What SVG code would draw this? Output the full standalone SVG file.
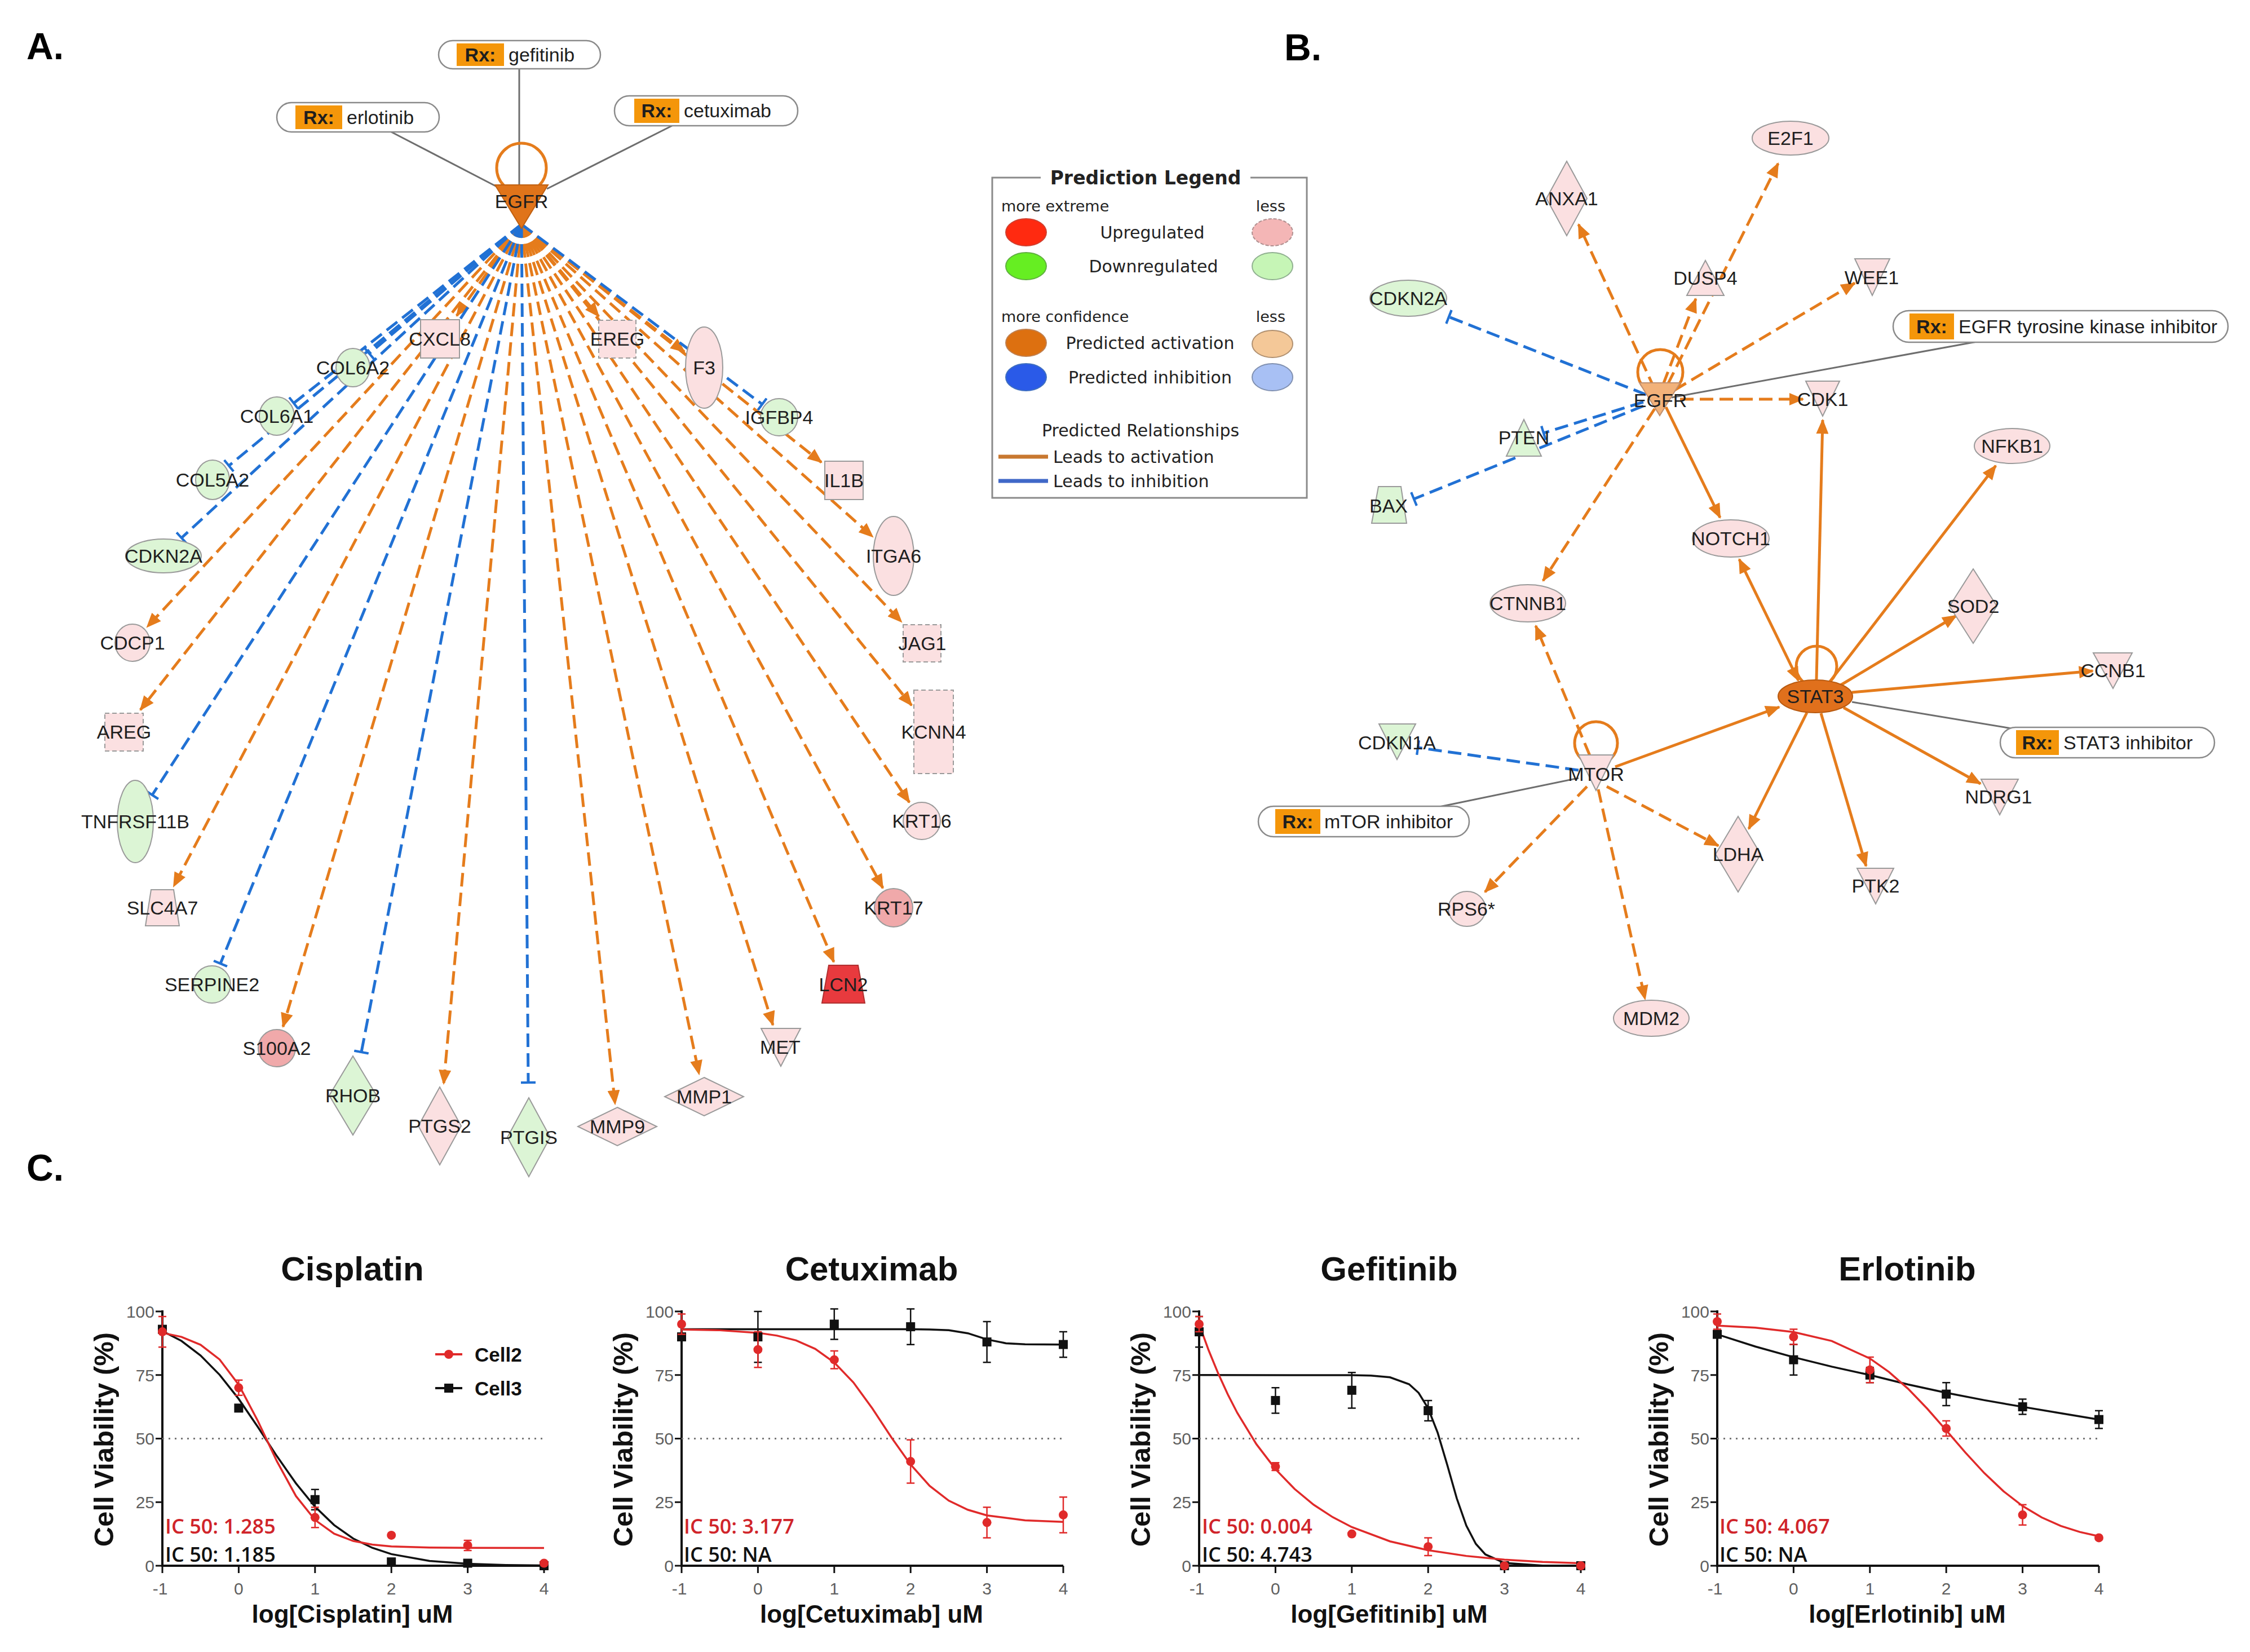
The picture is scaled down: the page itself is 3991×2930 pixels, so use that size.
<svg xmlns="http://www.w3.org/2000/svg" xmlns:xlink="http://www.w3.org/1999/xlink" width="3991" height="2930" viewBox="0 0 3991 2930">
<style>
.la{font-family:"Liberation Sans",Arial,sans-serif;font-size:34px;fill:#1e1e1e;text-anchor:middle}
.pk{fill:#fbe0e1;stroke:#9a9a9a;stroke-width:2}
.pd{fill:#f0a9aa;stroke:#9a9a9a;stroke-width:2}
.rd{fill:#e83a3e;stroke:#b03030;stroke-width:2}
.gn{fill:#dcf5d5;stroke:#9a9a9a;stroke-width:2}
.dsh{stroke-dasharray:8 5}
.eo{fill:none;stroke:#e57c1c;stroke-width:5;stroke-dasharray:24 11;marker-end:url(#aO)}
.so{fill:none;stroke:#e57c1c;stroke-width:5;marker-end:url(#aO)}
.sb{fill:none;stroke:#e57c1c;stroke-width:5;marker-end:url(#aO);marker-start:url(#aO)}
.eb{fill:none;stroke:#2171d4;stroke-width:5;stroke-dasharray:24 11;marker-end:url(#bB)}
.gl{stroke:#6e6e6e;stroke-width:3}
.lp{fill:none;stroke:#e57c1c;stroke-width:5}
.rxb{fill:#fff;stroke:#8a8a8a;stroke-width:2.5}
.rxo{fill:#f4960a}
.rxt{font-family:"Liberation Sans",Arial,sans-serif;font-size:34px;fill:#1e1e1e}
.rxk{font-weight:bold;text-anchor:middle}
.pl{font-family:"Liberation Sans",Arial,sans-serif;font-size:66px;font-weight:bold;fill:#000}
.lg{font-family:"DejaVu Sans",Verdana,sans-serif;fill:#222}
.ct{font-family:"Liberation Sans",Arial,sans-serif;font-weight:bold;fill:#111;text-anchor:middle}
.tk{font-family:"Liberation Sans",Arial,sans-serif;font-size:30px;fill:#606060}
.ic{font-family:"Open Sans","Liberation Sans",sans-serif;font-size:36px;font-weight:600}
.cr{fill:none;stroke:#e02a2a;stroke-width:3.5;vector-effect:non-scaling-stroke}
.cb{fill:none;stroke:#111;stroke-width:3.5;vector-effect:non-scaling-stroke}
.erR{fill:none;stroke:#e02a2a;stroke-width:2.5}
.erB{fill:none;stroke:#111;stroke-width:2.5}
</style>
<defs>
<marker id="aO" viewBox="0 0 12 10" refX="11" refY="5" markerWidth="27" markerHeight="22" markerUnits="userSpaceOnUse" orient="auto-start-reverse"><path d="M0,0 L12,5 L0,10 Z" fill="#e57c1c"/></marker>
<marker id="bB" viewBox="0 0 4 24" refX="2" refY="12" markerWidth="5" markerHeight="26" markerUnits="userSpaceOnUse" orient="auto"><rect width="4" height="24" fill="#2171d4"/></marker>
<circle id="dR" r="8" fill="#e02a2a"/>
<rect id="sB" x="-8" y="-8" width="16" height="16" fill="#111"/>
<g id="axes">
<path d="M0,2324 V2777 H677" fill="none" stroke="#111" stroke-width="4"/>
<path d="M-12,2326H0M-12,2438.75H0M-12,2551.5H0M-12,2664.25H0M-12,2777H0M0,2777V2790M135.4,2777V2790M270.8,2777V2790M406.2,2777V2790M541.6,2777V2790M677,2777V2790" fill="none" stroke="#111" stroke-width="3"/>
<path d="M0,2551.5H677" fill="none" stroke="#777" stroke-width="3" stroke-dasharray="3 8"/>
<g class="tk" text-anchor="end">
<text x="-14" y="2337">100</text><text x="-14" y="2450">75</text><text x="-14" y="2562">50</text><text x="-14" y="2675">25</text><text x="-14" y="2788">0</text>
</g>
<g class="tk" text-anchor="middle">
<text x="-4" y="2828">-1</text><text x="135.4" y="2828">0</text><text x="270.8" y="2828">1</text><text x="406.2" y="2828">2</text><text x="541.6" y="2828">3</text><text x="677" y="2828">4</text>
</g>
</g>
</defs>
<rect width="3991" height="2930" fill="#fff"/>

<text class="pl" x="47" y="105">A.</text>
<text class="pl" x="2278" y="107">B.</text>
<text class="pl" x="47" y="2094">C.</text>

<g id="connectors">
<line class="gl" x1="921" y1="122" x2="921" y2="335"/>
<line class="gl" x1="694" y1="234" x2="883" y2="332"/>
<line class="gl" x1="1192" y1="223" x2="970" y2="335"/>
<g id="fanA">
<line class="eo" x1="925" y1="398" x2="810" y2="560"/>
<line class="eo" x1="925" y1="398" x2="1062" y2="561"/>
<line class="eo" x1="925" y1="398" x2="1214" y2="624"/>
<line class="eo" x1="925" y1="398" x2="1457" y2="820"/>
<line class="eo" x1="925" y1="398" x2="1548" y2="952"/>
<line class="eo" x1="925" y1="398" x2="1599" y2="1103"/>
<line class="eo" x1="925" y1="398" x2="1617" y2="1251"/>
<line class="eo" x1="925" y1="398" x2="1613" y2="1423"/>
<line class="eo" x1="925" y1="398" x2="1566" y2="1575"/>
<line class="eo" x1="925" y1="398" x2="1479" y2="1706"/>
<line class="eo" x1="925" y1="398" x2="1371" y2="1818"/>
<line class="eo" x1="925" y1="398" x2="1240" y2="1905"/>
<line class="eo" x1="925" y1="398" x2="1091" y2="1958"/>
<line class="eo" x1="925" y1="398" x2="787" y2="1922"/>
<line class="eo" x1="925" y1="398" x2="502" y2="1821"/>
<line class="eo" x1="925" y1="398" x2="308" y2="1572"/>
<line class="eo" x1="925" y1="398" x2="249" y2="1259"/>
<line class="eo" x1="925" y1="398" x2="261" y2="1112"/>
<line class="eb" x1="925" y1="398" x2="655" y2="627"/>
<line class="eb" x1="925" y1="398" x2="521" y2="715"/>
<line class="eb" x1="925" y1="398" x2="406" y2="826"/>
<line class="eb" x1="925" y1="398" x2="322" y2="954"/>
<line class="eb" x1="925" y1="398" x2="270" y2="1410"/>
<line class="eb" x1="925" y1="398" x2="391" y2="1709"/>
<line class="eb" x1="925" y1="398" x2="641" y2="1866"/>
<line class="eb" x1="925" y1="398" x2="937" y2="1920"/>
<line class="eb" x1="925" y1="398" x2="1352" y2="717"/>
</g>
<g id="edgesB">
<line class="eo" x1="2935" y1="690" x2="2800" y2="398"/>
<line class="eo" x1="2958" y1="682" x2="3154" y2="290"/>
<line class="eo" x1="2950" y1="682" x2="3008" y2="530"/>
<line class="eo" x1="2970" y1="692" x2="3290" y2="502"/>
<line class="eo" x1="2980" y1="708" x2="3198" y2="708"/>
<line class="so" x1="2955" y1="722" x2="3051" y2="918"/>
<line class="eo" x1="2935" y1="725" x2="2737" y2="1030"/>
<line class="eb" x1="2920" y1="700" x2="2570" y2="562"/>
<line class="eb" x1="2915" y1="713" x2="2738" y2="768"/>
<line class="eb" x1="2915" y1="720" x2="2508" y2="885"/>
<line class="gl" x1="3512" y1="605" x2="2965" y2="705"/>
<line class="sb" x1="3085" y1="992" x2="3190" y2="1207"/>
<line class="so" x1="3222" y1="1205" x2="3233" y2="745"/>
<line class="so" x1="3245" y1="1210" x2="3540" y2="826"/>
<line class="so" x1="3265" y1="1215" x2="3470" y2="1092"/>
<line class="so" x1="3285" y1="1228" x2="3712" y2="1190"/>
<line class="gl" x1="3568" y1="1292" x2="3285" y2="1245"/>
<line class="so" x1="3270" y1="1255" x2="3513" y2="1390"/>
<line class="so" x1="3230" y1="1265" x2="3310" y2="1536"/>
<line class="so" x1="3205" y1="1264" x2="3102" y2="1470"/>
<line class="so" x1="2865" y1="1360" x2="3156" y2="1254"/>
<line class="eo" x1="2820" y1="1340" x2="2724" y2="1110"/>
<line class="eb" x1="2800" y1="1366" x2="2515" y2="1326"/>
<line class="gl" x1="2548" y1="1432" x2="2800" y2="1380"/>
<line class="eo" x1="2815" y1="1395" x2="2634" y2="1582"/>
<line class="eo" x1="2835" y1="1400" x2="2918" y2="1772"/>
<line class="eo" x1="2850" y1="1395" x2="3048" y2="1500"/>
</g>
</g>

<g id="a-EGFR"><circle class="lp" cx="925" cy="298" r="44"/><polygon points="878,328 972,328 925,405" fill="#e0741a" stroke="#c06010" stroke-width="2"/><text class="la" x="925" y="369">EGFR</text></g>
<g id="a-rx-gefitinib"><rect class="rxb" x="778" y="72" width="287" height="50" rx="25"/><rect class="rxo" x="810" y="77" width="84" height="40"/><text class="rxt rxk" x="852" y="109">Rx:</text><text class="rxt" x="902" y="109">gefitinib</text></g>
<g id="a-rx-erlotinib"><rect class="rxb" x="491" y="182" width="288" height="52" rx="26"/><rect class="rxo" x="524" y="187" width="83" height="42"/><text class="rxt rxk" x="565.5" y="220">Rx:</text><text class="rxt" x="615" y="220">erlotinib</text></g>
<g id="a-rx-cetuximab"><rect class="rxb" x="1090" y="170" width="325" height="53" rx="26"/><rect class="rxo" x="1125" y="175" width="80" height="43"/><text class="rxt rxk" x="1165" y="208">Rx:</text><text class="rxt" x="1213" y="208">cetuximab</text></g>

<g id="a-CXCL8"><rect class="pk" x="746" y="567" width="69" height="68"/><text class="la" x="780" y="613">CXCL8</text></g>
<g id="a-EREG"><rect class="pk dsh" x="1062" y="568" width="66" height="67"/><text class="la" x="1095" y="613">EREG</text></g>
<g id="a-COL6A2"><ellipse class="gn" cx="626" cy="652" rx="30" ry="34"/><text class="la" x="626" y="664">COL6A2</text></g>
<g id="a-COL6A1"><ellipse class="gn" cx="491" cy="738" rx="31" ry="34"/><text class="la" x="491" y="750">COL6A1</text></g>
<g id="a-COL5A2"><ellipse class="gn" cx="377" cy="851" rx="30" ry="35"/><text class="la" x="377" y="863">COL5A2</text></g>
<g id="a-CDKN2A"><ellipse class="gn" cx="290" cy="986" rx="67" ry="30"/><text class="la" x="290" y="998">CDKN2A</text></g>
<g id="a-CDCP1"><ellipse class="pk" cx="235" cy="1140" rx="31" ry="33"/><text class="la" x="235" y="1152">CDCP1</text></g>
<g id="a-AREG"><rect class="pk dsh" x="186" y="1265" width="68" height="67"/><text class="la" x="220" y="1310">AREG</text></g>
<g id="a-TNFRSF11B"><ellipse class="gn" cx="240" cy="1457" rx="32" ry="73"/><text class="la" x="240" y="1469">TNFRSF11B</text></g>
<g id="a-SLC4A7"><polygon class="pk" points="268,1578 308,1578 318,1642 258,1642"/><text class="la" x="288" y="1622">SLC4A7</text></g>
<g id="a-SERPINE2"><circle class="gn" cx="376" cy="1746" r="33"/><text class="la" x="376" y="1758">SERPINE2</text></g>
<g id="a-S100A2"><circle class="pd" cx="491" cy="1859" r="33"/><text class="la" x="491" y="1871">S100A2</text></g>
<g id="a-RHOB"><polygon class="gn" points="626,1873 668,1943 626,2013 584,1943"/><text class="la" x="626" y="1955">RHOB</text></g>
<g id="a-PTGS2"><polygon class="pk" points="780,1928 818,1997 780,2066 742,1997"/><text class="la" x="780" y="2009">PTGS2</text></g>
<g id="a-PTGIS"><polygon class="gn" points="938,1947 976,2017 938,2087 900,2017"/><text class="la" x="938" y="2029">PTGIS</text></g>
<g id="a-MMP9"><polygon class="pk" points="1095,1964 1165,1998 1095,2032 1025,1998"/><text class="la" x="1095" y="2010">MMP9</text></g>
<g id="a-MMP1"><polygon class="pk" points="1249,1911 1319,1945 1249,1979 1179,1945"/><text class="la" x="1249" y="1957">MMP1</text></g>
<g id="a-MET"><polygon class="pk" points="1350,1824 1420,1824 1385,1891"/><text class="la" x="1384" y="1869">MET</text></g>
<g id="a-LCN2"><polygon class="rd" points="1470,1712 1522,1712 1534,1779 1458,1779"/><text class="la" x="1496" y="1758">LCN2</text></g>
<g id="a-KRT17"><circle class="pd" cx="1585" cy="1610" r="34"/><text class="la" x="1585" y="1622">KRT17</text></g>
<g id="a-KRT16"><circle class="pk" cx="1635" cy="1456" r="33"/><text class="la" x="1635" y="1468">KRT16</text></g>
<g id="a-KCNN4"><rect class="pk dsh" x="1621" y="1224" width="70" height="148"/><text class="la" x="1656" y="1310">KCNN4</text></g>
<g id="a-JAG1"><rect class="pk dsh" x="1602" y="1108" width="67" height="66"/><text class="la" x="1636" y="1153">JAG1</text></g>
<g id="a-ITGA6"><ellipse class="pk" cx="1585" cy="986" rx="36" ry="70"/><text class="la" x="1585" y="998">ITGA6</text></g>
<g id="a-IL1B"><rect class="pk" x="1463" y="818" width="68" height="68"/><text class="la" x="1497" y="864">IL1B</text></g>
<g id="a-IGFBP4"><circle class="gn" cx="1382" cy="740" r="33"/><text class="la" x="1382" y="752">IGFBP4</text></g>
<g id="a-F3"><ellipse class="pk" cx="1249" cy="652" rx="33" ry="72"/><text class="la" x="1249" y="664">F3</text></g>

<g id="legend">
<rect x="1760" y="315" width="558" height="568" fill="#fff" stroke="#8a8a8a" stroke-width="3"/>
<rect x="1846" y="300" width="372" height="30" fill="#fff"/>
<text class="lg" x="2032" y="327" font-size="33" font-weight="bold" text-anchor="middle">Prediction Legend</text>
<text class="lg" x="1776" y="375" font-size="27">more extreme</text>
<text class="lg" x="2280" y="375" font-size="27" text-anchor="end">less</text>
<ellipse cx="1820" cy="412" rx="36" ry="24" fill="#ff2a10" stroke="#d04030" stroke-width="2"/>
<ellipse cx="2257" cy="412" rx="36" ry="24" fill="#f4b6b6" stroke="#b09090" stroke-width="2" stroke-dasharray="6 3"/>
<text class="lg" x="2044" y="423" font-size="30" text-anchor="middle">Upregulated</text>
<ellipse cx="1820" cy="472" rx="36" ry="24" fill="#66ee22" stroke="#60b040" stroke-width="2"/>
<ellipse cx="2257" cy="472" rx="36" ry="24" fill="#c6f5b6" stroke="#90b090" stroke-width="2"/>
<text class="lg" x="2046" y="483" font-size="30" text-anchor="middle">Downregulated</text>
<text class="lg" x="1776" y="571" font-size="27">more confidence</text>
<text class="lg" x="2280" y="571" font-size="27" text-anchor="end">less</text>
<ellipse cx="1820" cy="608" rx="36" ry="24" fill="#dd7010" stroke="#c08050" stroke-width="2"/>
<ellipse cx="2257" cy="610" rx="36" ry="24" fill="#f4c898" stroke="#b09070" stroke-width="2"/>
<text class="lg" x="2040" y="619" font-size="30" text-anchor="middle">Predicted activation</text>
<ellipse cx="1820" cy="669" rx="36" ry="24" fill="#2a5ae8" stroke="#4070c0" stroke-width="2"/>
<ellipse cx="2257" cy="669" rx="36" ry="24" fill="#a8c0f4" stroke="#8090b0" stroke-width="2"/>
<text class="lg" x="2040" y="680" font-size="30" text-anchor="middle">Predicted inhibition</text>
<text class="lg" x="2023" y="774" font-size="30" text-anchor="middle">Predicted Relationships</text>
<line x1="1771" y1="810" x2="1859" y2="810" stroke="#c87830" stroke-width="7"/>
<text class="lg" x="1868" y="821" font-size="30">Leads to activation</text>
<line x1="1771" y1="853" x2="1859" y2="853" stroke="#4068c8" stroke-width="7"/>
<text class="lg" x="1868" y="864" font-size="30">Leads to inhibition</text>
</g>

<g id="b-EGFR"><circle class="lp" cx="2945" cy="660" r="40"/><polygon points="2908,679 2980,679 2944,737" fill="#f2b27a" stroke="#c09070" stroke-width="2"/><text class="la" x="2945" y="722">EGFR</text></g>
<g id="b-STAT3"><circle class="lp" cx="3222" cy="1182" r="36"/><ellipse cx="3220" cy="1235" rx="66" ry="29" fill="#e0701c" stroke="#b85a10" stroke-width="2"/><text class="la" x="3220" y="1247" fill="#4a2a10">STAT3</text></g>
<g id="b-MTOR"><circle class="lp" cx="2831" cy="1318" r="38"/><polygon class="pk" points="2800,1339 2862,1339 2831,1402"/><text class="la" x="2831" y="1385">MTOR</text></g>
<g id="b-rx-egfr"><rect class="rxb" x="3358" y="551" width="594" height="56" rx="28"/><rect class="rxo" x="3387" y="556" width="79" height="46"/><text class="rxt rxk" x="3426.5" y="591">Rx:</text><text class="rxt" x="3474" y="591">EGFR tyrosine kinase inhibitor</text></g>
<g id="b-rx-stat3"><rect class="rxb" x="3548" y="1290" width="380" height="54" rx="27"/><rect class="rxo" x="3576" y="1295" width="76" height="44"/><text class="rxt rxk" x="3614" y="1329">Rx:</text><text class="rxt" x="3660" y="1329">STAT3 inhibitor</text></g>
<g id="b-rx-mtor"><rect class="rxb" x="2232" y="1430" width="374" height="54" rx="27"/><rect class="rxo" x="2262" y="1435" width="80" height="44"/><text class="rxt rxk" x="2302" y="1469">Rx:</text><text class="rxt" x="2349" y="1469">mTOR inhibitor</text></g>
<g id="b-ANXA1"><polygon class="pk" points="2779,286 2815,352 2779,418 2743,352"/><text class="la" x="2779" y="364">ANXA1</text></g>
<g id="b-E2F1"><ellipse class="pk" cx="3176" cy="245" rx="68" ry="30"/><text class="la" x="3176" y="257">E2F1</text></g>
<g id="b-DUSP4"><polygon class="pk" points="3025,462 3058,524 2992,524"/><text class="la" x="3025" y="505">DUSP4</text></g>
<g id="b-WEE1"><polygon class="pk" points="3290,459 3352,459 3321,524"/><text class="la" x="3320" y="504">WEE1</text></g>
<g id="b-CDKN2A"><ellipse class="gn" cx="2498" cy="529" rx="68" ry="32"/><text class="la" x="2498" y="541">CDKN2A</text></g>
<g id="b-CDK1"><polygon class="pk" points="3203,676 3263,676 3233,738"/><text class="la" x="3233" y="720">CDK1</text></g>
<g id="b-PTEN"><polygon class="gn" points="2703,744 2734,809 2672,809"/><text class="la" x="2703" y="788">PTEN</text></g>
<g id="b-BAX"><polygon class="gn" points="2445,863 2485,863 2495,928 2433,928"/><text class="la" x="2463" y="909">BAX</text></g>
<g id="b-NFKB1"><ellipse class="pk" cx="3569" cy="791" rx="67" ry="31"/><text class="la" x="3569" y="803">NFKB1</text></g>
<g id="b-NOTCH1"><ellipse class="pk" cx="3070" cy="955" rx="68" ry="33"/><text class="la" x="3070" y="967">NOTCH1</text></g>
<g id="b-CTNNB1"><ellipse class="pk" cx="2710" cy="1070" rx="67" ry="33"/><text class="la" x="2710" y="1082">CTNNB1</text></g>
<g id="b-SOD2"><polygon class="pk" points="3500,1009 3542,1075 3500,1141 3458,1075"/><text class="la" x="3500" y="1087">SOD2</text></g>
<g id="b-CCNB1"><polygon class="pk" points="3713,1158 3782,1158 3748,1221"/><text class="la" x="3748" y="1201">CCNB1</text></g>
<g id="b-NDRG1"><polygon class="pk" points="3514,1382 3580,1382 3547,1445"/><text class="la" x="3545" y="1425">NDRG1</text></g>
<g id="b-CDKN1A"><polygon class="gn" points="2446,1284 2511,1284 2478,1347"/><text class="la" x="2478" y="1329">CDKN1A</text></g>
<g id="b-LDHA"><polygon class="pk" points="3083,1448 3123,1515 3083,1582 3043,1515"/><text class="la" x="3083" y="1527">LDHA</text></g>
<g id="b-PTK2"><polygon class="pk" points="3294,1540 3359,1540 3327,1603"/><text class="la" x="3327" y="1583">PTK2</text></g>
<g id="b-RPS6"><ellipse class="pk" cx="2602" cy="1612" rx="33" ry="31"/><text class="la" x="2601" y="1624">RPS6*</text></g>
<g id="b-MDM2"><ellipse class="pk" cx="2929" cy="1806" rx="67" ry="32"/><text class="la" x="2929" y="1818">MDM2</text></g>

<g id="chart-cisplatin">
<use href="#axes" x="288"/>
<text class="ct" x="625" y="2271" font-size="60">Cisplatin</text>
<text class="ct" x="625" y="2878" font-size="44">log[Cisplatin] uM</text>
<text class="ct" font-size="49" transform="translate(201,2553) rotate(-90)">Cell Viability (%)</text>
<g transform="translate(288,2777) scale(135.4,-4.51) translate(1,0)">
<path class="cb" d="M-1,92.3 L-0.75,88.4 -0.5,82.7 -0.25,75.1 0,65.6 0.25,54.6 0.5,43.1 0.75,32.4 1,23.2 1.25,16 1.5,10.7 1.75,7.05 2,4.57 2.5,1.87 3,0.75 3.5,0.3 4,0.12"/>
<path class="cr" d="M-1,91.6 L-0.75,90 -0.5,86.9 -0.25,81.1 0,71.2 0.25,57 0.5,41.1 0.75,27.4 1,18 1.25,12.6 1.5,9.75 1.75,8.3 2,7.6 2.5,7.15 3,7.03 4,7"/>
</g>
<path class="erB" d="M558.8,2641.7V2677.7M551.8,2641.7h14M551.8,2677.7h14"/>
<use href="#sB" x="288" y="2357.6"/><use href="#sB" x="423.4" y="2497.4"/><use href="#sB" x="558.8" y="2659.7"/><use href="#sB" x="694.2" y="2770.2"/><use href="#sB" x="829.6" y="2772.5"/><use href="#sB" x="965" y="2777"/>
<path class="erR" d="M288,2335V2389.2M281,2335h14M281,2389.2h14M423.4,2447.8V2474.8M416.4,2447.8h14M416.4,2474.8h14M558.8,2673.3V2709.3M551.8,2673.3h14M551.8,2709.3h14M829.6,2731.9V2749.9M822.6,2731.9h14M822.6,2749.9h14"/>
<use href="#dR" x="288" y="2362.1"/><use href="#dR" x="423.4" y="2461.3"/><use href="#dR" x="558.8" y="2691.3"/><use href="#dR" x="694.2" y="2722.9"/><use href="#dR" x="829.6" y="2740.9"/><use href="#dR" x="965" y="2772.5"/>
<text class="ic" x="293" y="2720" fill="#d0242a">IC 50: 1.285</text>
<text class="ic" x="293" y="2770" fill="#111">IC 50: 1.185</text>
<g id="chart-legend">
<line x1="772" y1="2402" x2="820" y2="2402" stroke="#e02a2a" stroke-width="4"/><use href="#dR" x="796" y="2402"/>
<text x="842" y="2415" font-family="Liberation Sans, Arial, sans-serif" font-weight="bold" font-size="35" fill="#111">Cell2</text>
<line x1="772" y1="2462" x2="820" y2="2462" stroke="#111" stroke-width="4"/><use href="#sB" x="796" y="2462"/>
<text x="842" y="2475" font-family="Liberation Sans, Arial, sans-serif" font-weight="bold" font-size="35" fill="#111">Cell3</text>
</g>
</g>

<g id="chart-cetuximab">
<use href="#axes" x="1209"/>
<text class="ct" x="1546" y="2271" font-size="60">Cetuximab</text>
<text class="ct" x="1546" y="2878" font-size="44">log[Cetuximab] uM</text>
<text class="ct" font-size="49" transform="translate(1122,2553) rotate(-90)">Cell Viability (%)</text>
<g transform="translate(1209,2777) scale(135.4,-4.51) translate(1,0)">
<path class="cb" d="M-1,93 L2,93 2.25,92.93 2.5,92.63 2.75,91.43 3,89 3.25,87.49 3.5,87.09 4,87"/>
<path class="cr" d="M-1,92.9 L-0.5,92.6 0,91.6 0.25,90.5 0.5,88.6 0.75,85.3 1,79.9 1.25,72.1 1.5,61.8 1.75,50.4 2,39.8 2.25,31.4 2.5,25.6 2.75,22 3,19.8 3.5,17.86 4,17.26"/>
</g>
<path class="erB" d="M1344.4,2326V2416.2M1337.4,2326h14M1337.4,2416.2h14M1479.8,2321.4V2375.6M1472.8,2321.4h14M1472.8,2375.6h14M1615.2,2321.5V2384.7M1608.2,2321.5h14M1608.2,2384.7h14M1750.6,2344V2416.2M1743.6,2344h14M1743.6,2416.2h14M1886,2362V2407.2M1879,2362h14M1879,2407.2h14"/>
<use href="#sB" x="1209" y="2371.1"/><use href="#sB" x="1344.4" y="2371.1"/><use href="#sB" x="1479.8" y="2348.5"/><use href="#sB" x="1615.2" y="2353.1"/><use href="#sB" x="1750.6" y="2380.1"/><use href="#sB" x="1886" y="2384.6"/>
<path class="erR" d="M1209,2330.5V2366.5M1202,2330.5h14M1202,2366.5h14M1344.4,2362.1V2425.3M1337.4,2362.1h14M1337.4,2425.3h14M1479.8,2395.9V2427.5M1472.8,2395.9h14M1472.8,2427.5h14M1615.2,2553.8V2630.4M1608.2,2553.8h14M1608.2,2630.4h14M1750.6,2673.2V2727.4M1743.6,2673.2h14M1743.6,2727.4h14M1886,2655.2V2718.4M1879,2655.2h14M1879,2718.4h14"/>
<use href="#dR" x="1209" y="2348.5"/><use href="#dR" x="1344.4" y="2393.7"/><use href="#dR" x="1479.8" y="2411.7"/><use href="#dR" x="1615.2" y="2592.1"/><use href="#dR" x="1750.6" y="2700.3"/><use href="#dR" x="1886" y="2686.8"/>
<text class="ic" x="1213" y="2720" fill="#d0242a">IC 50: 3.177</text>
<text class="ic" x="1213" y="2770" fill="#111">IC 50: NA</text>
</g>

<g id="chart-gefitinib">
<use href="#axes" x="2127"/>
<text class="ct" x="2464" y="2271" font-size="60">Gefitinib</text>
<text class="ct" x="2464" y="2878" font-size="44">log[Gefitinib] uM</text>
<text class="ct" font-size="49" transform="translate(2040,2553) rotate(-90)">Cell Viability (%)</text>
<g transform="translate(2127,2777) scale(135.4,-4.51) translate(1,0)">
<path class="cb" d="M-1,75 L1,74.95 1.25,74.8 1.5,74.1 1.75,71.4 1.875,68 2,61.9 2.125,52.3 2.25,39.7 2.375,26.5 2.5,15.8 2.625,8.6 2.75,4.45 3,1.1 3.5,0.06 4,0"/>
<path class="cr" d="M-1,95 L-0.875,84.7 -0.75,75.6 -0.625,67.4 -0.5,60.1 -0.25,47.8 0,38 0.25,30.2 0.5,24 0.75,19.1 1,15.2 1.5,9.6 2,6.1 2.5,3.85 3,2.4 3.5,1.5 4,0.97"/>
</g>
<path class="erB" d="M2127,2335V2389.2M2120,2335h14M2120,2389.2h14M2262.4,2461.3V2506.5M2255.4,2461.3h14M2255.4,2506.5h14M2397.8,2434.2V2497.4M2390.8,2434.2h14M2390.8,2497.4h14M2533.2,2483.9V2519.9M2526.2,2483.9h14M2526.2,2519.9h14"/>
<use href="#sB" x="2127" y="2362.1"/><use href="#sB" x="2262.4" y="2483.9"/><use href="#sB" x="2397.8" y="2465.8"/><use href="#sB" x="2533.2" y="2501.9"/><use href="#sB" x="2668.6" y="2777"/><use href="#sB" x="2804" y="2777"/>
<path class="erR" d="M2127,2335V2362M2120,2335h14M2120,2362h14M2262.4,2594.3V2607.9M2255.4,2594.3h14M2255.4,2607.9h14M2533.2,2727.4V2759M2526.2,2727.4h14M2526.2,2759h14"/>
<use href="#dR" x="2127" y="2348.5"/><use href="#dR" x="2262.4" y="2601.1"/><use href="#dR" x="2397.8" y="2720.6"/><use href="#dR" x="2533.2" y="2743.2"/><use href="#dR" x="2668.6" y="2777"/><use href="#dR" x="2804" y="2777"/>
<text class="ic" x="2132" y="2720" fill="#d0242a">IC 50: 0.004</text>
<text class="ic" x="2132" y="2770" fill="#111">IC 50: 4.743</text>
</g>

<g id="chart-erlotinib">
<use href="#axes" x="3046"/>
<text class="ct" x="3383" y="2271" font-size="60">Erlotinib</text>
<text class="ct" x="3383" y="2878" font-size="44">log[Erlotinib] uM</text>
<text class="ct" font-size="49" transform="translate(2959,2553) rotate(-90)">Cell Viability (%)</text>
<g transform="translate(3046,2777) scale(135.4,-4.51) translate(1,0)">
<path class="cb" d="M-1,91 L-0.5,86.2 0,82 0.5,78.3 1,75 1.5,71.3 2,68 2.5,65.1 3,62.5 3.5,60 4,57.5"/>
<path class="cr" d="M-1,94.4 L-0.5,93.6 0,91.9 0.5,88.4 1,81.5 1.25,76.2 1.5,69.6 1.75,61.8 2,53.25 2.25,44.55 2.5,36.4 2.75,29.3 3,23.5 3.25,19 3.5,15.67 3.75,13.28 4,11.6"/>
</g>
<path class="erB" d="M3181.4,2384.6V2438.8M3174.4,2384.6h14M3174.4,2438.8h14M3316.8,2425.3V2452.3M3309.8,2425.3h14M3309.8,2452.3h14M3452.2,2452.3V2492.9M3445.2,2452.3h14M3445.2,2492.9h14M3587.6,2481.6V2508.6M3580.6,2481.6h14M3580.6,2508.6h14M3723,2501.9V2533.5M3716,2501.9h14M3716,2533.5h14"/>
<use href="#sB" x="3046" y="2366.6"/><use href="#sB" x="3181.4" y="2411.7"/><use href="#sB" x="3316.8" y="2438.8"/><use href="#sB" x="3452.2" y="2472.6"/><use href="#sB" x="3587.6" y="2495.1"/><use href="#sB" x="3723" y="2517.7"/>
<path class="erR" d="M3046,2330.5V2357.5M3039,2330.5h14M3039,2357.5h14M3181.4,2357.6V2384.6M3174.4,2357.6h14M3174.4,2384.6h14M3316.8,2407.1V2452.3M3309.8,2407.1h14M3309.8,2452.3h14M3452.2,2520V2547M3445.2,2520h14M3445.2,2547h14M3587.6,2668.8V2704.8M3580.6,2668.8h14M3580.6,2704.8h14"/>
<use href="#dR" x="3046" y="2344"/><use href="#dR" x="3181.4" y="2371.1"/><use href="#dR" x="3316.8" y="2429.7"/><use href="#dR" x="3452.2" y="2533.5"/><use href="#dR" x="3587.6" y="2686.8"/><use href="#dR" x="3723" y="2727.4"/>
<text class="ic" x="3050" y="2720" fill="#d0242a">IC 50: 4.067</text>
<text class="ic" x="3050" y="2770" fill="#111">IC 50: NA</text>
</g>
</svg>
